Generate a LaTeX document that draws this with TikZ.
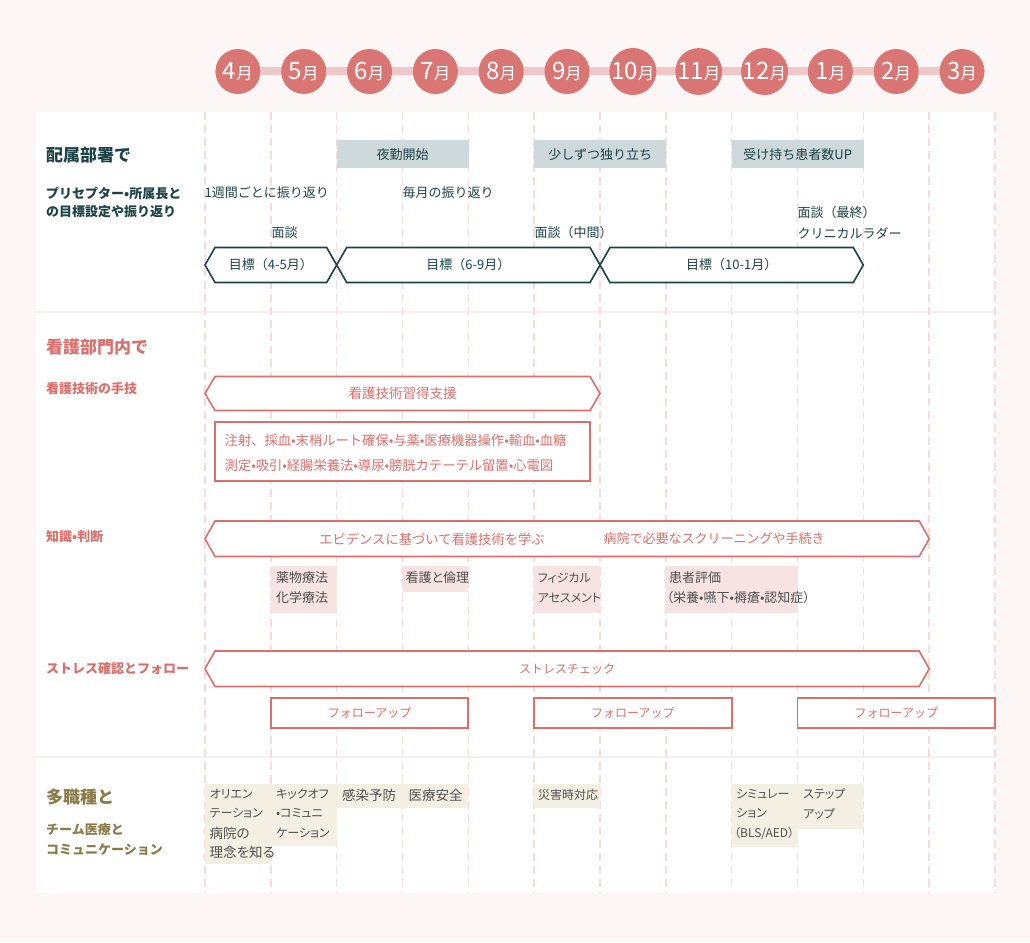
\documentclass[tikz,border=0pt]{standalone}
\usepackage{fontspec}
\setmainfont{Noto Sans CJK JP}
\newfontfamily\pfont{Noto Sans CJK JP}[RawFeature=+palt]
\definecolor{bgc}{HTML}{FCF7F6}
\definecolor{dashc}{HTML}{F7DADC}
\definecolor{circc}{HTML}{D97572}
\definecolor{barc}{HTML}{F0C7C7}
\definecolor{tealc}{HTML}{1C4347}
\definecolor{grayb}{HTML}{CDD9DA}
\definecolor{salm}{HTML}{DB6F6C}
\definecolor{pinkb}{HTML}{F8E3E3}
\definecolor{olive}{HTML}{8A7A47}
\definecolor{beige}{HTML}{F4EFE3}
\definecolor{boxtxt}{HTML}{4F4F4F}
\definecolor{sepc}{HTML}{FCEEEE}
\newcommand\hexdraw[5]{\draw[hexline,draw=#5] (#1,{(#3+#4)/2}) -- ({#1+10},#3) -- ({#2-10},#3) -- (#2,{(#3+#4)/2}) -- ({#2-10},#4) -- ({#1+10},#4) -- cycle;}
\begin{document}
\begin{tikzpicture}[x=1pt,y=-1pt,
  gridline/.style={dashc, line width=1.5pt, dash pattern=on 8pt off 5pt},
  month/.style={circle, fill=circc, minimum size=45pt, inner sep=0, text=white},
  title/.style={anchor=west, inner sep=0, font=\bfseries\fontsize{17}{17}\selectfont},
  lab/.style={anchor=west, inner sep=0, font=\bfseries\fontsize{13}{13}\selectfont},
  txt/.style={inner sep=0, font=\fontsize{13}{13}\selectfont},
  ptxt/.style={anchor=west, inner sep=0, text=boxtxt, font=\pfont\fontsize{13}{13}\selectfont},
  btxt/.style={anchor=west, inner sep=0, text=boxtxt, font=\pfont\fontsize{13.5}{13.5}\selectfont},
  kana/.style={font=\pfont\fontsize{12}{12}\selectfont},
  graybox/.style={fill=grayb, inner sep=0, anchor=north west, minimum width=131.6pt, minimum height=28pt, text=tealc, font=\fontsize{13}{13}\selectfont},
  fbox/.style={draw=salm, line width=1.8pt, fill=white, inner sep=0, minimum width=197.5pt, minimum height=30pt, text=salm, font=\fontsize{12}{12}\selectfont},
  hexline/.style={line width=1.6pt, fill=white, line join=miter},
]
\useasboundingbox (0,0) rectangle (1030,942);
\fill[bgc] (0,0) rectangle (1030,942);
\fill[white] (36,112) rectangle (996,893);
\draw[sepc, line width=1.5pt] (36,312) -- (996,312);
\draw[sepc, line width=1.5pt] (36,757) -- (996,757);
\foreach \i in {0,...,12} \draw[gridline] ({205+65.83*\i},112) -- ({205+65.83*\i},893);

% month bar and circles
\coordinate (bs) at (237.9,71);
\coordinate (be) at (962.1,71);
\draw[barc, line width=7pt] (bs) -- (be);
\foreach \i/\m in {0/4,1/5,2/6,3/7,4/8,5/9,6/10,7/11,8/12,9/1,10/2,11/3}
  \node[month] (m\i) at ({237.9+65.83*\i},71.5) {{\fontsize{24}{24}\selectfont\m}{\fontsize{16.5}{16.5}\selectfont 月}};

% ---- section 1
\node[title, text=tealc] (t1) at (46,155) {配属部署で};
\node[lab, text=tealc] (l1a) at (46,193) {プリセプター•所属長と};
\node[lab, text=tealc] (l1b) at (46,212) {の目標設定や振り返り};
\node[graybox] (g1) at (336.7,140) {夜勤開始};
\node[graybox] (g2) at (534.2,140) {少しずつ独り立ち};
\node[graybox] (g3) at (731.7,140) {受け持ち患者数UP};
\node[txt, anchor=west, text=tealc] (r1) at (204.5,193) {1週間ごとに振り返り};
\node[txt, anchor=west, text=tealc] (r2) at (402.5,193) {毎月の振り返り};
\node[txt, anchor=west, text=tealc] (i1) at (271.5,233) {面談};
\node[txt, anchor=west, text=tealc] (i2) at (534.5,233) {面談（中間）};
\node[txt, anchor=west, text=tealc] (i3a) at (797.5,213) {面談（最終）};
\node[txt, anchor=west, text=tealc] (i3b) at (797.5,233) {クリニカルラダー};
\hexdraw{205}{336.7}{247.5}{282.5}{tealc}
\hexdraw{336.7}{600}{247.5}{282.5}{tealc}
\hexdraw{600}{863.3}{247.5}{282.5}{tealc}
\node[txt, text=tealc] (h1) at (270.8,265) {目標（4-5月）};
\node[txt, text=tealc] (h2) at (468.3,265) {目標（6-9月）};
\node[txt, text=tealc] (h3) at (731.7,265) {目標（10-1月）};

% ---- section 2
\node[title, text=salm] (t2) at (46,347) {看護部門内で};
\node[lab, text=salm] (l2a) at (46,389) {看護技術の手技};
\hexdraw{205}{600}{376.5}{410.5}{salm}
\node[txt, text=salm, font=\fontsize{13.5}{13.5}\selectfont] (h4) at (402.5,393.5) {看護技術習得支援};
\draw[salm, line width=1.6pt, fill=white] (215,422) rectangle (590,481);
\node[txt, anchor=west, text=salm, font=\fontsize{13.3}{13.3}\selectfont] (s1) at (224.5,440) {注射、採血•末梢ルート確保•与薬•医療機器操作•輸血•血糖};
\node[txt, anchor=west, text=salm, font=\fontsize{13.3}{13.3}\selectfont] (s2) at (224.5,465) {測定•吸引•経腸栄養法•導尿•膀胱カテーテル留置•心電図};

\node[lab, text=salm] (l2b) at (46,537) {知識•判断};
\hexdraw{205}{929.2}{521}{556.5}{salm}
\node[txt, text=salm, font=\fontsize{13.3}{13.3}\selectfont] (e1) at (432,539) {エビデンスに基づいて看護技術を学ぶ};
\node[txt, text=salm, font=\fontsize{13}{13}\selectfont] (e2) at (714,539) {病院で必要なスクリーニングや手続き};

\fill[pinkb] (270.8,566) rectangle (336.7,613);
\node[ptxt] (p1a) at (276,578) {薬物療法};
\node[ptxt] (p1b) at (276,598) {化学療法};
\fill[pinkb] (402.5,566) rectangle (468.3,592);
\node[ptxt] (p2) at (405.5,578) {看護と倫理};
\fill[pinkb] (534.2,566) rectangle (600,613);
\node[ptxt, kana] (p3a) at (537.5,578) {フィジカル};
\node[ptxt, kana] (p3b) at (537.5,598) {アセスメント};
\fill[pinkb] (665.8,566) rectangle (797.5,613);
\node[ptxt] (p4a) at (669,578) {患者評価};
\node[ptxt] (p4b) at (666.5,598) {（栄養•嚥下•褥瘡•認知症）};

\node[lab, text=salm] (l2c) at (46,669) {ストレス確認とフォロー};
\hexdraw{205}{929.2}{651}{686.5}{salm}
\node[txt, text=salm, font=\fontsize{12}{12}\selectfont] (sc) at (567,669) {ストレスチェック};
\node[fbox] (f1) at (369.6,713) {フォローアップ};
\node[fbox] (f2) at (632.9,713) {フォローアップ};
\node[fbox] (f3) at (896.25,713) {フォローアップ};

% ---- section 3
\node[title, text=olive] (t3) at (46,797) {多職種と};
\node[lab, text=olive] (l3a) at (46,830) {チーム医療と};
\node[lab, text=olive] (l3b) at (46,850) {コミュニケーション};

\fill[beige] (205,784) rectangle (270.8,864);
\node[btxt, kana] (b1a) at (209.5,794) {オリエン};
\node[btxt, kana] (b1b) at (209.5,813.5) {テーション};
\node[btxt] (b1c) at (209.5,833) {病院の};
\node[btxt] (b1d) at (209.5,852.5) {理念を知る};
\fill[beige] (270.8,784) rectangle (336.7,846);
\node[btxt, kana] (b2a) at (276,794) {キックオフ};
\node[btxt, kana] (b2b) at (276,813.5) {•コミュニ};
\node[btxt, kana] (b2c) at (276,833) {ケーション};
\fill[beige] (336.7,784) rectangle (402.5,808);
\node[btxt] (b3) at (342,795) {感染予防};
\fill[beige] (402.5,784) rectangle (468.3,808);
\node[btxt] (b4) at (408.5,795) {医療安全};
\fill[beige] (534.2,784) rectangle (600,808);
\node[btxt, font=\pfont\fontsize{12}{12}\selectfont] (b5) at (538,795) {災害時対応};
\fill[beige] (731.7,784) rectangle (797.5,847);
\node[btxt, kana] (b6a) at (736,794) {シミュレー};
\node[btxt, kana] (b6b) at (736,813.5) {ション};
\node[btxt, kana] (b6c) at (734,833) {（BLS/AED）};
\fill[beige] (797.5,784) rectangle (863.3,829);
\node[btxt, kana] (b7a) at (803,794) {ステップ};
\node[btxt, kana] (b7b) at (803,813.5) {アップ};
\end{tikzpicture}
\end{document}
